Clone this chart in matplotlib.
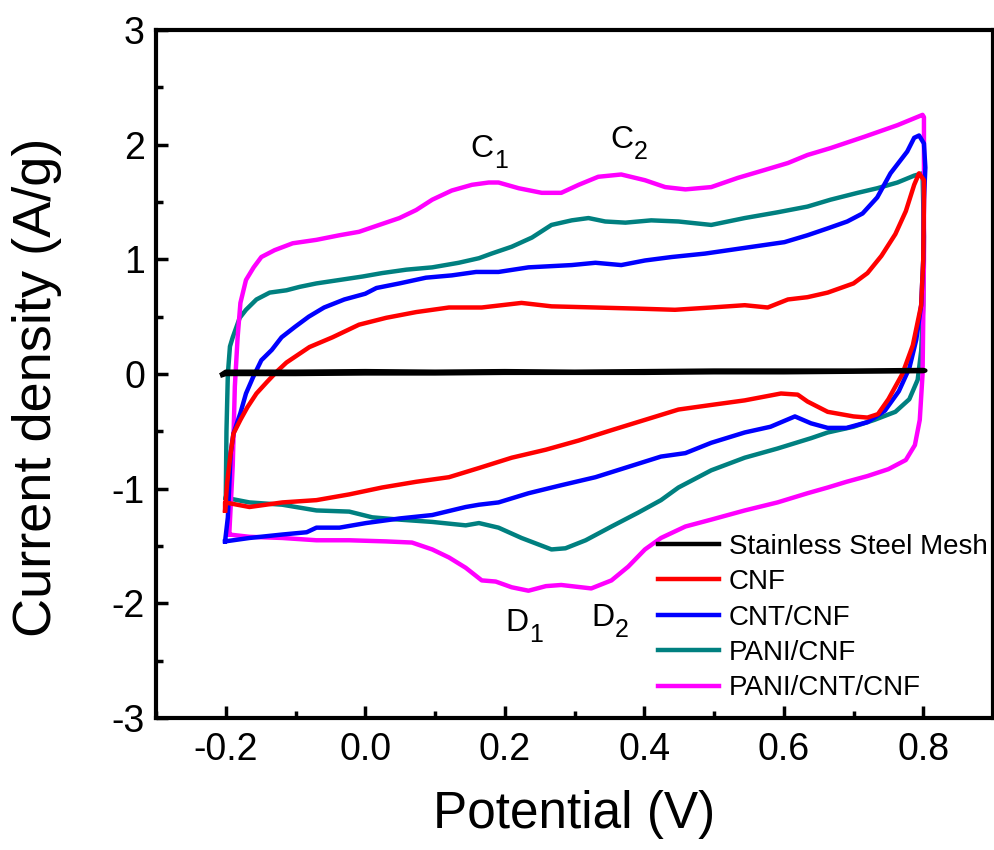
import numpy as np
import matplotlib
matplotlib.use('Agg')
import matplotlib.pyplot as plt
from matplotlib.ticker import MultipleLocator

plt.rcParams['font.family'] = ['Liberation Sans', 'DejaVu Sans']
plt.rcParams['axes.unicode_minus'] = False

# cyclic voltammograms: potential (V), current density (A/g)
# each loop = forward scan then reverse scan
ss_v = [-0.205, -0.2, -0.1, 0.0, 0.1, 0.2, 0.3, 0.4, 0.5, 0.6, 0.7, 0.8, 0.803,
        0.8, 0.7, 0.6, 0.5, 0.4, 0.3, 0.2, 0.1, 0.0, -0.1, -0.2, -0.205]
ss_i = [0.0, 0.02, 0.02, 0.025, 0.02, 0.025, 0.02, 0.025, 0.03, 0.03, 0.03, 0.035, 0.03,
        0.025, 0.02, 0.015, 0.015, 0.01, 0.01, 0.01, 0.005, 0.005, 0.0, 0.0, -0.01]

cnf_v = [-0.201, -0.198, -0.193, -0.189, -0.179, -0.169, -0.156, -0.141, -0.127, -0.113,
         -0.08, -0.047, -0.009, 0.03, 0.073, 0.12, 0.167, 0.224, 0.267, 0.33, 0.391, 0.444,
         0.496, 0.544, 0.577, 0.606, 0.634, 0.663, 0.70, 0.72, 0.74, 0.76, 0.775, 0.787,
         0.794, 0.801, 0.801,
         0.80, 0.797, 0.785, 0.77, 0.75, 0.735, 0.72, 0.70, 0.663, 0.634, 0.62, 0.596, 0.544,
         0.496, 0.449, 0.401, 0.353, 0.306, 0.259, 0.21, 0.163, 0.12, 0.073, 0.024, -0.023,
         -0.07, -0.119, -0.166, -0.201, -0.201]
cnf_i = [-1.19, -0.95, -0.69, -0.52, -0.40, -0.29, -0.17, -0.07, 0.02, 0.10,
         0.235, 0.32, 0.43, 0.49, 0.54, 0.58, 0.58, 0.62, 0.59, 0.58, 0.57, 0.56,
         0.58, 0.60, 0.58, 0.65, 0.67, 0.71, 0.79, 0.88, 1.03, 1.22, 1.42, 1.65,
         1.75, 1.69, 1.52,
         1.0, 0.6, 0.25, 0.0, -0.22, -0.35, -0.38, -0.37, -0.33, -0.24, -0.18, -0.17, -0.23,
         -0.27, -0.31, -0.40, -0.49, -0.58, -0.66, -0.73, -0.82, -0.90, -0.94, -0.99, -1.05,
         -1.10, -1.12, -1.16, -1.12, -1.19]

cnt_v = [-0.201, -0.197, -0.193, -0.189, -0.179, -0.171, -0.161, -0.149, -0.134, -0.12,
         -0.101, -0.081, -0.059, -0.03, 0.0, 0.016, 0.049, 0.087, 0.124, 0.159, 0.191, 0.234,
         0.296, 0.33, 0.367, 0.401, 0.439, 0.487, 0.544, 0.601, 0.634, 0.663, 0.691, 0.713,
         0.734, 0.753, 0.777, 0.787, 0.794, 0.801, 0.803, 0.801,
         0.80, 0.797, 0.79, 0.78, 0.765, 0.745, 0.72, 0.69, 0.663, 0.639, 0.616, 0.581, 0.544,
         0.496, 0.459, 0.424, 0.377, 0.33, 0.281, 0.234, 0.191, 0.163, 0.144, 0.096, 0.049,
         0.001, -0.037, -0.07, -0.084, -0.119, -0.166, -0.201]
cnt_i = [-1.46, -1.25, -0.69, -0.52, -0.34, -0.17, -0.03, 0.12, 0.21, 0.32,
         0.41, 0.50, 0.58, 0.65, 0.70, 0.75, 0.79, 0.84, 0.86, 0.89, 0.89, 0.93,
         0.95, 0.97, 0.95, 0.99, 1.02, 1.05, 1.10, 1.15, 1.21, 1.27, 1.33, 1.40,
         1.54, 1.75, 1.94, 2.06, 2.08, 2.01, 1.80, 1.52,
         1.0, 0.6, 0.3, 0.05, -0.15, -0.32, -0.42, -0.47, -0.47, -0.43, -0.37, -0.46, -0.51,
         -0.60, -0.69, -0.72, -0.81, -0.90, -0.97, -1.04, -1.12, -1.14, -1.16, -1.23, -1.26,
         -1.30, -1.34, -1.34, -1.38, -1.40, -1.43, -1.46]

pani_v = [-0.2, -0.199, -0.197, -0.194, -0.19, -0.18, -0.171, -0.156, -0.137, -0.113,
          -0.094, -0.07, -0.037, -0.004, 0.024, 0.059, 0.096, 0.134, 0.163, 0.181, 0.21,
          0.239, 0.267, 0.296, 0.32, 0.344, 0.373, 0.41, 0.449, 0.496, 0.544, 0.591, 0.634,
          0.667, 0.706, 0.734, 0.763, 0.787, 0.799,
          0.801, 0.8, 0.797, 0.792, 0.78, 0.76, 0.73, 0.70, 0.663, 0.639, 0.591, 0.544, 0.496,
          0.449, 0.424, 0.391, 0.353, 0.316, 0.287, 0.267, 0.224, 0.191, 0.163, 0.144, 0.096,
          0.049, 0.01, -0.023, -0.07, -0.119, -0.166, -0.2]
pani_i = [-1.08, -0.5, 0.0, 0.24, 0.32, 0.49, 0.56, 0.65, 0.71, 0.73,
          0.76, 0.79, 0.82, 0.85, 0.88, 0.91, 0.93, 0.97, 1.01, 1.05, 1.11,
          1.19, 1.30, 1.34, 1.36, 1.33, 1.32, 1.34, 1.33, 1.30, 1.36, 1.41, 1.46,
          1.52, 1.58, 1.62, 1.67, 1.73, 1.75,
          1.2, 0.6, 0.2, -0.05, -0.22, -0.33, -0.40, -0.46, -0.51, -0.56, -0.65, -0.73, -0.84,
          -0.99, -1.10, -1.21, -1.33, -1.45, -1.52, -1.53, -1.43, -1.34, -1.30, -1.32, -1.29,
          -1.27, -1.25, -1.20, -1.19, -1.14, -1.12, -1.08]

pcc_v = [-0.195, -0.19, -0.187, -0.183, -0.179, -0.171, -0.16, -0.149, -0.13, -0.104,
         -0.07, -0.037, -0.009, 0.02, 0.049, 0.073, 0.096, 0.124, 0.153, 0.177, 0.191, 0.22,
         0.253, 0.281, 0.306, 0.334, 0.367, 0.401, 0.43, 0.459, 0.496, 0.534, 0.573, 0.606,
         0.634, 0.667, 0.716, 0.763, 0.799,
         0.801, 0.801, 0.799, 0.795, 0.788, 0.775, 0.75, 0.72, 0.69, 0.663, 0.634, 0.591,
         0.544, 0.496, 0.459, 0.424, 0.401, 0.377, 0.353, 0.324, 0.281, 0.259, 0.234, 0.21,
         0.187, 0.167, 0.144, 0.12, 0.096, 0.067, 0.03, -0.023, -0.07, -0.119, -0.166, -0.195]
pcc_i = [-1.40, -0.8, -0.11, 0.32, 0.62, 0.82, 0.93, 1.02, 1.08, 1.14,
         1.17, 1.21, 1.24, 1.30, 1.36, 1.43, 1.52, 1.60, 1.65, 1.67, 1.67, 1.62,
         1.58, 1.58, 1.65, 1.72, 1.74, 1.69, 1.63, 1.61, 1.63, 1.71, 1.78, 1.84,
         1.91, 1.97, 2.07, 2.17, 2.26,
         2.24, 1.0, 0.0, -0.4, -0.62, -0.75, -0.83, -0.89, -0.94, -0.99, -1.04, -1.12,
         -1.19, -1.27, -1.33, -1.43, -1.53, -1.68, -1.80, -1.87, -1.84, -1.85, -1.89, -1.86,
         -1.81, -1.80, -1.69, -1.60, -1.53, -1.47, -1.46, -1.45, -1.45, -1.43, -1.42, -1.40]

labels = ['Stainless Steel Mesh', 'CNF', 'CNT/CNF', 'PANI/CNF', 'PANI/CNT/CNF']
colors = ['black', '#ff0000', '#0000ff', '#008080', '#ff00ff']
zorders = [6, 5, 4, 2, 3]

# peak labels: letter, subscript, potential, current
peaks = [('C', '1', 0.151, 1.89), ('C', '2', 0.351, 1.97),
         ('D', '1', 0.201, -2.24), ('D', '2', 0.324, -2.20)]

fig = plt.figure(figsize=(9.95, 8.5), dpi=100)
ax = fig.add_axes([0.1568, 0.1553, 0.8412, 0.8094])

curves = [(ss_v, ss_i), (cnf_v, cnf_i), (cnt_v, cnt_i), (pani_v, pani_i), (pcc_v, pcc_i)]
for (v, i), lab, c, z in zip(curves, labels, colors, zorders):
    ax.plot(v, i, color=c, lw=3.2, label=lab, zorder=z, solid_joinstyle='round')

for letter, sub, x, y in peaks:
    ax.text(x, y, letter, fontsize=23, ha='left', va='baseline')
    ax.annotate(sub, xy=(x, y), xytext=(17, -8), textcoords='offset points',
                fontsize=18, ha='left', va='baseline')

ax.set_xlim(-0.3, 0.9)
ax.set_ylim(-3, 3)
ax.xaxis.set_major_locator(MultipleLocator(0.2))
ax.xaxis.set_minor_locator(MultipleLocator(0.1))
ax.yaxis.set_major_locator(MultipleLocator(1))
ax.yaxis.set_minor_locator(MultipleLocator(0.5))
ax.set_xticks([-0.2, 0.0, 0.2, 0.4, 0.6, 0.8])
ax.set_xticklabels(['-0.2', '0.0', '0.2', '0.4', '0.6', '0.8'])

ax.tick_params(which='both', direction='in', top=False, right=False, width=2.5)
ax.tick_params(which='major', length=8.5, labelsize=27)
ax.tick_params(which='minor', length=5)
ax.tick_params(axis='x', pad=10)
ax.tick_params(axis='y', pad=8)
for s in ax.spines.values():
    s.set_linewidth(3)

ax.set_xlabel('Potential (V)', fontsize=37)
ax.set_ylabel('Current density (A/g)', fontsize=39)
ax.xaxis.set_label_coords(0.5, -0.105)
ax.yaxis.set_label_coords(-0.112, 0.48)

ax.legend(loc='upper left', bbox_to_anchor=(0.6, 0.268), frameon=False, fontsize=20,
          handlelength=2.2, handletextpad=0.35, labelspacing=0.34,
          borderpad=0, borderaxespad=0)

plt.savefig('out.png', dpi=100)
